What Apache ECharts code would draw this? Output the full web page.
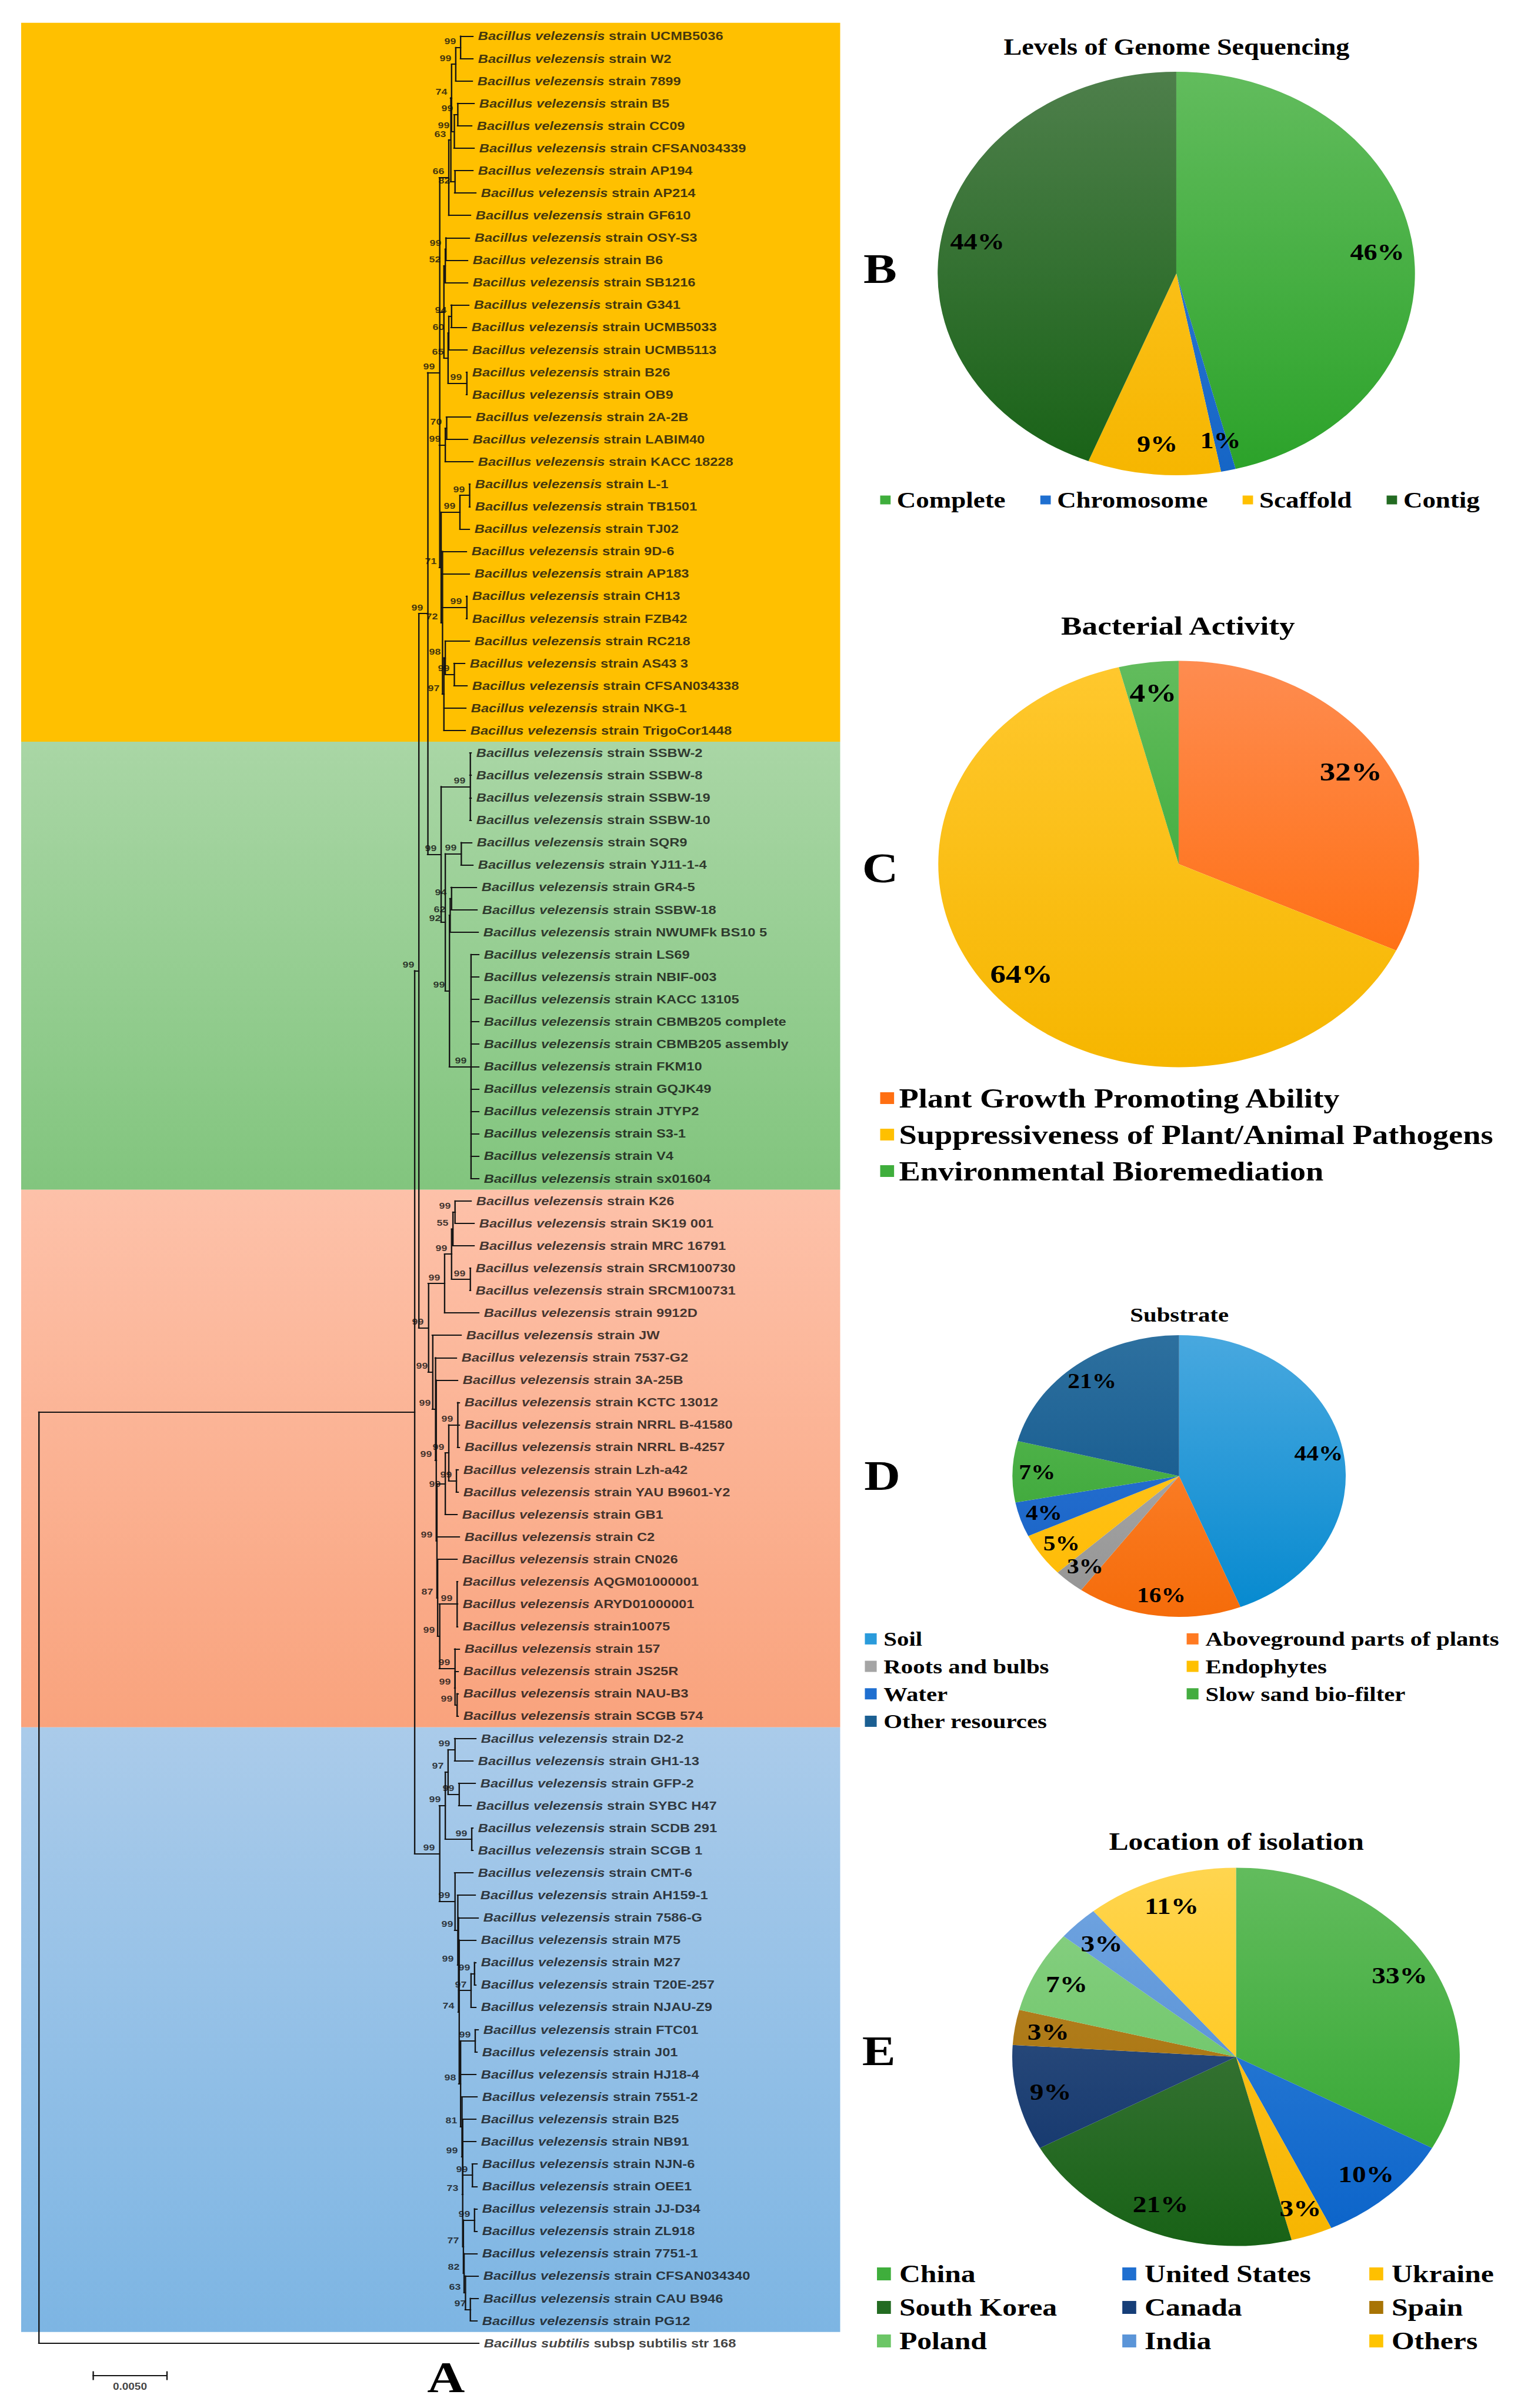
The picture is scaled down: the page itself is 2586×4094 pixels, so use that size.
<!DOCTYPE html>
<html>
<head>
<meta charset="utf-8">
<script src="https://cdn.jsdelivr.net/npm/echarts/dist/echarts.min.js"></script>
<style>
html,body{margin:0;padding:0;background:#fff;width:2586px;height:4094px;overflow:hidden}
#chart{width:2186px;height:4094px;transform:scaleX(1.18298);transform-origin:0 0}
</style>
</head>
<body>
<div id="chart"></div>
<script>
// ================= DATA =================
// Panel A: leaf labels (top to bottom) of the Neighbour-joining tree
const speciesName = 'Bacillus velezensis';
const strainIds = [
 'strain UCMB5036','strain W2','strain 7899','strain B5','strain CC09','strain CFSAN034339','strain AP194','strain AP214','strain GF610','strain OSY-S3',
 'strain B6','strain SB1216','strain G341','strain UCMB5033','strain UCMB5113','strain B26','strain OB9','strain 2A-2B','strain LABIM40','strain KACC 18228',
 'strain L-1','strain TB1501','strain TJ02','strain 9D-6','strain AP183','strain CH13','strain FZB42','strain RC218','strain AS43 3','strain CFSAN034338',
 'strain NKG-1','strain TrigoCor1448','strain SSBW-2','strain SSBW-8','strain SSBW-19','strain SSBW-10','strain SQR9','strain YJ11-1-4','strain GR4-5','strain SSBW-18',
 'strain NWUMFk BS10 5','strain LS69','strain NBIF-003','strain KACC 13105','strain CBMB205 complete','strain CBMB205 assembly','strain FKM10','strain GQJK49','strain JTYP2','strain S3-1',
 'strain V4','strain sx01604','strain K26','strain SK19 001','strain MRC 16791','strain SRCM100730','strain SRCM100731','strain 9912D','strain JW','strain 7537-G2',
 'strain 3A-25B','strain KCTC 13012','strain NRRL B-41580','strain NRRL B-4257','strain Lzh-a42','strain YAU B9601-Y2','strain GB1','strain C2','strain CN026','AQGM01000001',
 'ARYD01000001','strain10075','strain 157','strain JS25R','strain NAU-B3','strain SCGB 574','strain D2-2','strain GH1-13','strain GFP-2','strain SYBC H47',
 'strain SCDB 291','strain SCGB 1','strain CMT-6','strain AH159-1','strain 7586-G','strain M75','strain M27','strain T20E-257','strain NJAU-Z9','strain FTC01',
 'strain J01','strain HJ18-4','strain 7551-2','strain B25','strain NB91','strain NJN-6','strain OEE1','strain JJ-D34','strain ZL918','strain 7751-1',
 'strain CFSAN034340','strain CAU B946','strain PG12'
];
const outgroupLabel = 'Bacillus subtilis subsp subtilis str 168';

// branch lengths are in units of 1e-5 substitutions per site
const BRANCH_UNIT = 1e-5;
// internal nodes: [node, parent, branch length, bootstrap]
const treeNodes = [
 ['ROOT', null, 0, null], ['M', 'ROOT', 2556, null], ['UP', 'M', 28, 99], ['BL', 'M', 168, 99],
 ['YG', 'UP', 60, 99], ['RED', 'UP', 64, 99], ['Y', 'YG', 80, 99], ['GRN', 'YG', 92, 99],
 ['UU', 'Y', 64, 66], ['U1', 'UU', 12, 63], ['U2', 'U1', 8, 74], ['A2', 'U2', 28, 99], ['A1', 'A2', 32, 99],
 ['A3b', 'U2', 16, 99], ['A3', 'A3b', 24, 99], ['A6', 'U1', 28, 82],
 ['B6', 'Y', 32, null], ['B1', 'B6', 8, 52], ['B1a', 'B1', 4, 99], ['B5', 'B6', 28, 65], ['B3', 'B5', 4, 60],
 ['B2', 'B3', 16, 94], ['B4', 'B5', 124, 99], ['C1', 'Y', 40, 99], ['C1a', 'C1', 8, 70],
 ['L1', 'Y', 12, 71], ['D2', 'L1', 128, 99], ['D1', 'D2', 64, 99], ['L2', 'L1', 8, 72], ['E0', 'L2', 164, 99],
 ['E3', 'L2', 12, 97], ['E2', 'E3', 8, 98], ['E1', 'E2', 60, 99],
 ['Ga', 'GRN', 196, 99], ['Gh', 'GRN', 28, 92], ['Gb', 'Gh', 108, 99], ['Gg', 'Gh', 28, 99], ['Gd', 'Gg', 4, 62],
 ['Gc', 'Gd', 8, 94], ['Gf', 'Gg', 148, 99],
 ['Re', 'RED', 112, 99], ['Rd', 'Re', 48, 99], ['Rb', 'Rd', 8, 55], ['Ra', 'Rb', 16, 99], ['Rc', 'Rd', 124, 99],
 ['Rlo', 'RED', 28, 99], ['Rm', 'Rlo', 20, 99], ['Rm1', 'Rm', 8, 99], ['Rm2', 'Rm1', 4, 99], ['Ri', 'Rm2', 56, 99],
 ['Rh', 'Ri', 24, 99], ['Rf', 'Rh', 60, 99], ['Rg', 'Rh', 52, 99], ['Rq', 'Rm2', 4, 87], ['Rp', 'Rq', 12, 99],
 ['Rk', 'Rp', 120, 99], ['Ro', 'Rp', 104, 99], ['Rn', 'Ro', 4, 99], ['Rl', 'Rn', 12, 99],
 ['G5', 'BL', 40, 99], ['G3', 'G5', 20, 97], ['G1', 'G3', 44, 99], ['G2', 'G3', 72, 99], ['G4', 'G5', 180, 99],
 ['LB', 'BL', 104, 99], ['LB1', 'LB', 20, 99], ['LB2', 'LB1', 4, 99], ['LB3', 'LB2', 4, 74], ['Ha', 'LB3', 84, 97],
 ['Hb', 'Ha', 24, 99], ['LB4', 'LB3', 12, 98], ['Hc', 'LB4', 100, 99], ['LB5', 'LB4', 8, 81], ['LB6', 'LB5', 4, 99],
 ['LB7', 'LB6', 4, 73], ['Hd', 'LB7', 64, 99], ['LB8', 'LB7', 4, 77], ['He', 'LB8', 76, 99], ['LB9', 'LB8', 4, 82],
 ['LB10', 'LB9', 8, 63], ['Hf', 'LB10', 36, 97]
];
// parent node of each leaf (index order = strainIds, then outgroup)
const leafParents = [
 'A1','A1','A2','A3','A3','A3b','A6','A6','UU','B1a',
 'B1a','B1','B2','B2','B3','B4','B4','C1a','C1a','C1',
 'D1','D1','D2','L2','L2','E0','E0','E2','E1','E1',
 'E3','E3','Ga','Ga','Ga','Ga','Gb','Gb','Gc','Gc',
 'Gd','Gf','Gf','Gf','Gf','Gf','Gf','Gf','Gf','Gf',
 'Gf','Gf','Ra','Ra','Rb','Rc','Rc','Re','Rlo','Rm',
 'Rm1','Rf','Rf','Rf','Rg','Rg','Ri','Rm2','Rq','Rk',
 'Rk','Rk','Ro','Rn','Rl','Rl','G1','G1','G2','G2',
 'G4','G4','LB','LB1','LB2','LB3','Hb','Hb','Ha','Hc',
 'Hc','LB4','LB5','LB6','LB7','Hd','Hd','He','He','LB9',
 'LB10','Hf','Hf','ROOT'
];
const leafBranchLengths = [
 84,84,112,112,96,136,124,144,148,160,
 148,152,120,104,124,4,4,164,144,188,
 4,4,64,164,184,4,4,164,72,88,
 148,144,8,8,8,8,72,80,172,176,
 192,52,52,52,52,52,52,52,52,52,
 52,52,108,128,144,4,4,232,196,144,
 144,12,12,12,12,12,80,152,132,4,
 4,4,32,20,8,8,144,124,112,84,
 8,8,124,120,136,116,8,8,32,20,
 12,104,104,92,88,32,32,16,16,88,
 88,52,44,2992
];
// leaf index ranges of the four shaded clades
const cladeRanges = [[0, 31], [32, 51], [52, 75], [76, 102]];
const scaleBarLength = 0.005;
const scaleBarText = '0.0050';

// Panel B
const genomeLevels = ['Complete', 'Chromosome', 'Scaffold', 'Contig'];
const genomeShares = [46, 1, 9, 44];
// Panel C
const activityNames = ['Plant Growth Promoting Ability', 'Suppressiveness of Plant/Animal Pathogens', 'Environmental Bioremediation'];
const activityShares = [32, 64, 4];
// Panel D
const substrateNames = ['Soil', 'Aboveground parts of plants', 'Roots and bulbs', 'Endophytes', 'Water', 'Slow sand bio-filter', 'Other resources'];
const substrateShares = [44, 16, 3, 5, 4, 7, 21];
// Panel E
const locationNames = ['China', 'United States', 'Ukraine', 'South Korea', 'Canada', 'Spain', 'Poland', 'India', 'Others'];
const locationShares = [33, 10, 3, 21, 9, 3, 7, 3, 11];

// ================= STYLES =================
const SERIF = "'Liberation Serif','Times New Roman',serif";
const SANS = "'Liberation Sans',Arial,sans-serif";
const bandColors = [['#FFC000', '#FFC000'], ['#A9D6A5', '#82C57E'], ['#FDC1A9', '#F9A37D'], ['#AACBEA', '#7DB5E3']];
const genomeColors = [['#62BC5D', '#2BA229'], ['#3A82D8', '#1565C6'], ['#FFC82E', '#F6B600'], ['#4E7F4B', '#186216']];
const genomeIcons = ['#3FAE3C', '#1F6FD0', '#FFC000', '#236B22'];
const activityColors = [['#FE8C50', '#FF6600'], ['#FFC82E', '#F6B600'], ['#62BC5D', '#2BA229']];
const activityIcons = ['#FF6F12', '#FFC000', '#3FAE3C'];
const substrateColors = [['#48A8DF', '#0589CF'], ['#FF8A3D', '#F56C0A'], ['#B4B4B4', '#939393'], ['#FFC82E', '#FFBA00'],
  ['#3079D6', '#1560C4'], ['#5FBB59', '#2FA02C'], ['#2D709F', '#0A4F86']];
const substrateIcons = ['#2A9BDB', '#FF7A22', '#A5A5A5', '#FFC000', '#1F6FD0', '#44AD40', '#1B5F92'];
const locationColors = [['#62BC5D', '#2BA229'], ['#3A86DA', '#0A63C9'], ['#FFC82E', '#F7B500'], ['#4E7F4B', '#186216'],
  ['#3D5C87', '#0B2F68'], ['#BA882C', '#A06A00'], ['#8CD187', '#5BBF55'], ['#71A5E1', '#4A86D0'], ['#FFD54F', '#FFC000']];
const locationIcons = ['#3FAE3C', '#1F6FD0', '#FFC000', '#236B22', '#163E78', '#A87405', '#6CC667', '#5B95D8', '#FFC400'];

// ================= TREE LAYOUT =================
const X_MIN = -0.002, X_MAX = 0.056, Y_MIN = -1, Y_MAX = 105.5;
const GRID = { left: 13.5, top: 23.52, width: 1225.7, height: 4055.5 };
const nodeMap = {};
treeNodes.forEach(([name, parent, len, bs]) => { nodeMap[name] = { name, parent, len, bs, children: [] }; });
treeNodes.forEach(([name, parent]) => { if (parent) nodeMap[parent].children.push(nodeMap[name]); });
const leafLabels = strainIds.map(s => speciesName + ' ' + s).concat([outgroupLabel]);
const leaves = leafParents.map((p, i) => {
  const n = { leaf: i, parent: p, len: leafBranchLengths[i], children: [], y: i };
  nodeMap[p].children.push(n);
  return n;
});
(function setDepth(n, d) { n.depth = d; n.children.forEach(c => setDepth(c, d + c.len)); })(nodeMap.ROOT, 0);
(function setY(n) {
  if (n.leaf !== undefined) return n.y;
  const ys = n.children.map(setY);
  n.ymin = Math.min.apply(null, ys); n.ymax = Math.max.apply(null, ys);
  n.y = (n.ymin + n.ymax) / 2;
  return n.y;
})(nodeMap.ROOT);
const segs = [], bootPts = [];
(function walk(n) {
  const x = n.depth * BRANCH_UNIT;
  if (n.parent) {
    const px = nodeMap[n.parent].depth * BRANCH_UNIT;
    segs.push({ coords: [[px, n.y], [x, n.y]] });
  }
  if (n.children.length) {
    segs.push({ coords: [[x, n.ymin], [x, n.ymax]] });
    if (n.bs != null) bootPts.push([x, n.y, n.bs]);
    n.children.forEach(walk);
  }
})(nodeMap.ROOT);
const leafPts = leaves.map(n => [n.depth * BRANCH_UNIT, n.y, n.leaf]);

// bootstrap label placement: left-above the node, nudged down if two labels collide
const toPx = (x, y) => [GRID.left + (x - X_MIN) / (X_MAX - X_MIN) * GRID.width,
                        GRID.top + (y - Y_MIN) / (Y_MAX - Y_MIN) * GRID.height];
const BOOT_FS = 15, BOOT_H = 15, BOOT_DIST = 6, BOOT_UP = -11;
const placedBoxes = [];
const bootData = bootPts.slice().sort((a, b) => a[1] - b[1]).map(p => {
  const [px, py] = toPx(p[0], p[1]);
  const w = String(p[2]).length * 8.6;
  const r = px - BOOT_DIST;
  const box = { l: r - w, r: r, t: py + BOOT_UP - BOOT_H / 2, b: py + BOOT_UP + BOOT_H / 2 };
  let moved = true, guard = 0;
  while (moved && guard++ < 50) {
    moved = false;
    for (const q of placedBoxes) {
      if (q.l < box.r && box.l < q.r && q.t < box.b && box.t < q.b) {
        const d = q.b + 0.5 - box.t; box.t += d; box.b += d; moved = true;
      }
    }
  }
  placedBoxes.push(box);
  return { value: p, label: { offset: [0, (box.t + BOOT_H / 2) - py] } };
});

// scale bar
const sbX0 = 0.0037, sbY = 104.45, sbTick = 0.17;
const scaleSegs = [
  { coords: [[sbX0, sbY], [sbX0 + scaleBarLength, sbY]] },
  { coords: [[sbX0, sbY - sbTick], [sbX0, sbY + sbTick]] },
  { coords: [[sbX0 + scaleBarLength, sbY - sbTick], [sbX0 + scaleBarLength, sbY + sbTick]] }
];

const bandAreas = cladeRanges.map((r, i) => [
  { xAxis: -0.0012, yAxis: i === 0 ? r[0] - 0.6 : r[0] - 0.5,
    itemStyle: { color: new echarts.graphic.LinearGradient(0, 0, 0, 1, [{ offset: 0, color: bandColors[i][0] }, { offset: 1, color: bandColors[i][1] }]) } },
  { xAxis: 0.0545, yAxis: r[1] + 0.5 }
]);

// ================= PIES =================
const pies = [
  { names: genomeLevels, values: genomeShares, colors: genomeColors, cx: 1690.6, cy: 465, R: 343, fs: 39 },
  { names: activityNames, values: activityShares, colors: activityColors, cx: 1694, cy: 1469, R: 345.5, fs: 45 },
  { names: substrateNames, values: substrateShares, colors: substrateColors, cx: 1694.6, cy: 2509.5, R: 239.5, fs: 35 },
  { names: locationNames, values: locationShares, colors: locationColors, cx: 1776.4, cy: 3497, R: 321.6, fs: 40 }
];
const pieSeries = [];
pies.forEach(p => {
  const grad = c => new echarts.graphic.LinearGradient(0, p.cy - p.R, 0, p.cy + p.R,
    [{ offset: 0, color: c[0] }, { offset: 1, color: c[1] }], true);
  pieSeries.push({
    type: 'pie', center: [p.cx, p.cy], radius: p.R, startAngle: 90, clockwise: true, silent: true,
    label: { show: false }, labelLine: { show: false }, emphasis: { disabled: true },
    itemStyle: { borderWidth: 0 },
    data: p.names.map((n, i) => ({ name: n, value: p.values[i], itemStyle: { color: grad(p.colors[i]) } }))
  });
  pieSeries.push({
    type: 'pie', center: [p.cx, p.cy], radius: [p.R * 0.68, p.R], startAngle: 90, clockwise: true, silent: true,
    itemStyle: { color: 'rgba(0,0,0,0)', borderWidth: 0 }, emphasis: { disabled: true }, labelLine: { show: false },
    label: { show: true, position: 'inside', formatter: '{c}%', fontFamily: SERIF, fontWeight: 'bold', fontSize: p.fs, color: '#000' },
    data: p.names.map((n, i) => ({ name: n, value: p.values[i] }))
  });
});

function legendBlock(names, icons, idx, left, top, o) {
  return {
    orient: o.orient || 'vertical', left: left, top: top, padding: 0, icon: 'rect', selectedMode: false,
    itemWidth: o.iw, itemHeight: o.ih, itemGap: o.gap || 0,
    textStyle: { fontFamily: SERIF, fontWeight: 'bold', fontSize: o.fs, color: '#000', lineHeight: o.lh, padding: [0, 0, 0, o.pad] },
    data: idx.map(i => ({ name: names[i], itemStyle: { color: icons[i] } }))
  };
}
const range = n => Array.from({ length: n }, (_, i) => i);
const colIdx = (n, cols, c) => range(n).filter(i => i % cols === c);
const legends = [
  legendBlock(genomeLevels, genomeIcons, range(4), 1265, 830, { orient: 'horizontal', iw: 15, ih: 15, gap: 50, fs: 38, lh: 40, pad: 4 }),
  legendBlock(activityNames, activityIcons, range(3), 1265, 1836, { iw: 20, ih: 20, fs: 46, lh: 62, pad: 2 }),
  legendBlock(substrateNames, substrateIcons, colIdx(7, 2, 0), 1243, 2763, { iw: 17, ih: 19, fs: 34.5, lh: 46.7, pad: 5 }),
  legendBlock(substrateNames, substrateIcons, colIdx(7, 2, 1), 1705.5, 2763, { iw: 17, ih: 19, fs: 34.5, lh: 46.7, pad: 5 }),
  legendBlock(locationNames, locationIcons, colIdx(9, 3, 0), 1260.4, 3837.5, { iw: 20, ih: 22, fs: 42, lh: 57, pad: 7 }),
  legendBlock(locationNames, locationIcons, colIdx(9, 3, 1), 1613, 3837.5, { iw: 20, ih: 22, fs: 42, lh: 57, pad: 7 }),
  legendBlock(locationNames, locationIcons, colIdx(9, 3, 2), 1968, 3837.5, { iw: 20, ih: 22, fs: 42, lh: 57, pad: 7 })
];

function titleAt(text, x, y, fs) {
  return { text: text, left: x, top: y, padding: 0, textAlign: 'center', textVerticalAlign: 'middle',
    textStyle: { fontFamily: SERIF, fontWeight: 'bold', fontSize: fs, color: '#000' } };
}
const titles = [
  titleAt('Levels of Genome Sequencing', 1691, 80, 39),
  titleAt('Bacterial Activity', 1693, 1064, 45),
  titleAt('Substrate', 1695, 2235, 34.5),
  titleAt('Location of isolation', 1777, 3131, 42),
  titleAt('A', 641, 4042, 75),
  titleAt('B', 1265, 457, 72),
  titleAt('C', 1265, 1476, 72),
  titleAt('D', 1268, 2509, 72),
  titleAt('E', 1263, 3487, 72)
];

// ================= CHART =================
const chart = echarts.init(document.getElementById('chart'), null, { renderer: 'svg', width: 2186, height: 4094 });
chart.setOption({
  animation: false,
  backgroundColor: '#fff',
  title: titles,
  legend: legends,
  grid: Object.assign({ show: false }, GRID),
  xAxis: { type: 'value', min: X_MIN, max: X_MAX, show: false },
  yAxis: { type: 'value', min: Y_MIN, max: Y_MAX, inverse: true, show: false },
  series: [
    { type: 'scatter', name: 'bands', z: 0, silent: true, symbolSize: 1, data: [[0, -1]],
      itemStyle: { color: 'rgba(0,0,0,0)' },
      markArea: { silent: true, data: bandAreas } },
    { type: 'lines', name: 'branches', coordinateSystem: 'cartesian2d', z: 3, silent: true, data: segs.concat(scaleSegs),
      lineStyle: { color: '#141414', width: 2, opacity: 1, cap: 'square' } },
    { type: 'scatter', name: 'leaves', z: 4, silent: true, symbolSize: 1, itemStyle: { color: 'rgba(0,0,0,0)' },
      data: leafPts,
      label: { show: true, position: 'right', distance: 7, fontFamily: SANS, fontWeight: 'bold', fontSize: 20, color: '#111',
        formatter: p => {
          const w = leafLabels[p.data[2]].split(' ');
          return '{i|' + w[0] + ' ' + w[1] + '} {n|' + w.slice(2).join(' ') + '}';
        },
        rich: {
          i: { fontFamily: SANS, fontStyle: 'italic', fontWeight: 'bold', fontSize: 20, color: '#111' },
          n: { fontFamily: SANS, fontWeight: 'bold', fontSize: 20, color: '#111' }
        } } },
    { type: 'scatter', name: 'bootstrap', z: 4, silent: true, symbolSize: 1, itemStyle: { color: 'rgba(0,0,0,0)' },
      data: bootData,
      label: { show: true, position: 'left', distance: BOOT_DIST, formatter: p => String(p.value[2]),
        fontFamily: SANS, fontWeight: 'bold', fontSize: BOOT_FS, color: '#111' } },
    { type: 'scatter', name: 'scalebar', z: 4, silent: true, symbolSize: 1, itemStyle: { color: 'rgba(0,0,0,0)' },
      data: [[sbX0 + scaleBarLength / 2, sbY]],
      label: { show: true, position: 'bottom', distance: 10, formatter: scaleBarText,
        fontFamily: SANS, fontWeight: 'bold', fontSize: 16, color: '#111' } }
  ].concat(pieSeries)
});
</script>
</body>
</html>
